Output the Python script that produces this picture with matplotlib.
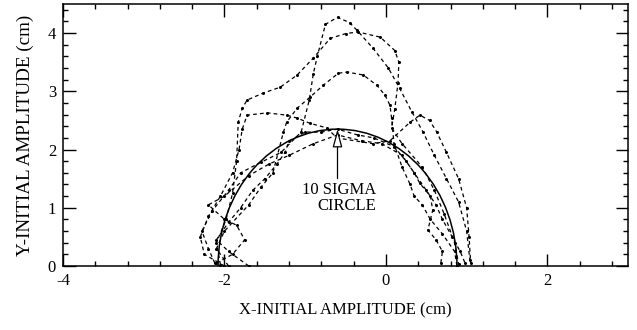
import matplotlib
matplotlib.use('Agg')
import matplotlib.pyplot as plt
from matplotlib.patches import Arc
from matplotlib.ticker import MultipleLocator

plt.rcParams['font.family'] = ['Liberation Serif', 'DejaVu Serif']
plt.rcParams['axes.unicode_minus'] = False

# dynamic aperture curves (cm)
xa = [-2.12, -2.2, -2.28, -2.15, -1.95, -1.8, -1.55, -1.3, -1.05, -0.95, -0.9, -0.85, -0.75, -0.6,
      -0.45, -0.36, -0.16, 0.03, 0.17, 0.32, 0.46, 0.6, 0.75, 0.9, 1.0, 1.04]
ya = [0.05, 0.3, 0.6, 0.95, 1.3, 1.6, 1.78, 1.95, 2.3, 2.85, 3.3, 3.6, 4.15, 4.27,
      4.18, 4.05, 3.74, 3.4, 3.05, 2.65, 2.3, 1.9, 1.5, 1.1, 0.6, 0.1]

xb = [-2.05, -2.1, -1.98, -1.9, -1.85, -1.83, -1.78, -1.72, -1.52, -1.31, -1.1, -0.9, -0.69, -0.5,
      -0.35, -0.07, 0.11, 0.16, 0.15, 0.11, 0.07, 0.2, 0.45, 0.6, 0.72, 0.85, 0.9]
yb = [0.02, 0.4, 0.8, 1.25, 1.8, 2.47, 2.71, 2.85, 2.97, 3.07, 3.28, 3.57, 3.91, 3.99,
      4.02, 3.93, 3.7, 3.5, 3.15, 2.7, 2.37, 2.1, 1.7, 1.3, 0.9, 0.4, 0.03]

xc = [-1.95, -2.1, -2.0, -1.7, -1.55, -1.4, -1.27, -1.23, -1.1, -0.94, -0.78, -0.59, -0.48, -0.28,
      -0.11, -0.01, 0.05, 0.07, 0.1, 0.2, 0.3, 0.35, 0.45, 0.55, 0.7, 0.85, 0.88]
yc = [0.0, 0.3, 0.6, 1.05, 1.35, 1.6, 2.3, 2.47, 2.71, 2.9, 3.1, 3.31, 3.33, 3.28,
      3.1, 2.93, 2.76, 2.54, 2.1, 1.7, 1.4, 1.2, 1.05, 0.8, 0.55, 0.25, 0.0]

xd = [-2.0, -2.25, -2.3, -2.2, -2.05, -1.9, -1.82, -1.78, -1.72, -1.47, -1.23, -1.1, -0.94, -0.73,
      -0.61, -0.16, 0.05, 0.3, 0.42, 0.54, 0.63, 0.75, 0.9, 1.0, 1.03, 1.05]
yd = [0.0, 0.2, 0.5, 0.85, 1.2, 1.6, 2.0, 2.35, 2.59, 2.63, 2.59, 2.54, 2.45, 2.37,
      2.2, 2.1, 2.15, 2.47, 2.59, 2.5, 2.3, 1.95, 1.5, 1.0, 0.5, 0.05]

xe = [-1.7, -1.95, -2.1, -1.95, -1.8, -1.65, -1.5, -1.35, -1.25, -1.2, -1.0, -0.8, -0.6, -0.35,
      -0.15, 0.1, 0.25, 0.35, 0.42, 0.55, 0.58, 0.52, 0.62, 0.7, 0.68]
ye = [0.0, 0.25, 0.45, 0.75, 1.0, 1.3, 1.5, 1.75, 1.95, 2.15, 2.3, 2.3, 2.35, 2.25,
      2.2, 2.05, 1.8, 1.6, 1.42, 1.2, 0.96, 0.62, 0.45, 0.25, 0.05]

xf = [-2.1, -1.9, -1.75, -1.85, -2.0, -2.2, -2.0, -1.7, -1.45, -1.2, -0.9, -0.6, -0.3, -0.05,
      0.2, 0.35, 0.5, 0.62, 0.7, 0.82, 0.92, 0.98]
yf = [0.05, 0.2, 0.45, 0.7, 0.8, 1.05, 1.2, 1.55, 1.75, 1.9, 2.1, 2.25, 2.15, 2.1,
      1.9, 1.6, 1.3, 1.05, 0.8, 0.5, 0.25, 0.05]

curves = [(xa, ya), (xb, yb), (xc, yc), (xd, yd), (xe, ye), (xf, yf)]

# 10 sigma circle (centre and half axes in cm)
circle_x0 = -0.6
circle_rx = 1.48
circle_ry = 2.35

fig = plt.figure(figsize=(6.37, 3.30), dpi=100)
ax = fig.add_axes([0.099, 0.194, 0.887, 0.794])

for x, y in curves:
    ax.plot(x, y, color='black', lw=0.9, ls=(0, (3, 2.5)), marker='o', ms=1.2)

ax.add_patch(Arc((circle_x0, 0), 2 * circle_rx, 2 * circle_ry, theta1=0, theta2=180,
                 color='black', lw=1.1))

ax.annotate('', xy=(circle_x0, circle_ry), xytext=(circle_x0, 1.5),
            arrowprops=dict(arrowstyle='-|>,head_length=1.1,head_width=0.3', fc='white',
                            ec='black', lw=0.9, mutation_scale=10, shrinkA=0, shrinkB=0))
ax.text(-0.12, 1.45, '10 SIGMA\nCIRCLE', ha='right', va='top', multialignment='right',
        fontsize=12, linespacing=1.0)

ax.set_xlim(-4, 3)
ax.set_ylim(0, 4.5)
ax.xaxis.set_major_locator(MultipleLocator(2))
ax.xaxis.set_minor_locator(MultipleLocator(0.4))
ax.yaxis.set_major_locator(MultipleLocator(1))
ax.yaxis.set_minor_locator(MultipleLocator(0.2))
ax.tick_params(which='both', direction='in', top=True, right=True, labelsize=12, width=1)
ax.tick_params(which='major', length=9)
ax.tick_params(which='minor', length=3.5)
ax.tick_params(axis='x', which='major', pad=5)
ax.tick_params(axis='y', which='major', pad=5)
for s in ax.spines.values():
    s.set_linewidth(1.1)

ax.set_xlabel('X-INITIAL AMPLITUDE (cm)', fontsize=12, labelpad=10)
ax.set_ylabel('Y-INITIAL AMPLITUDE (cm)', fontsize=13.8, labelpad=10)

fig.savefig('out.png', dpi=100)
